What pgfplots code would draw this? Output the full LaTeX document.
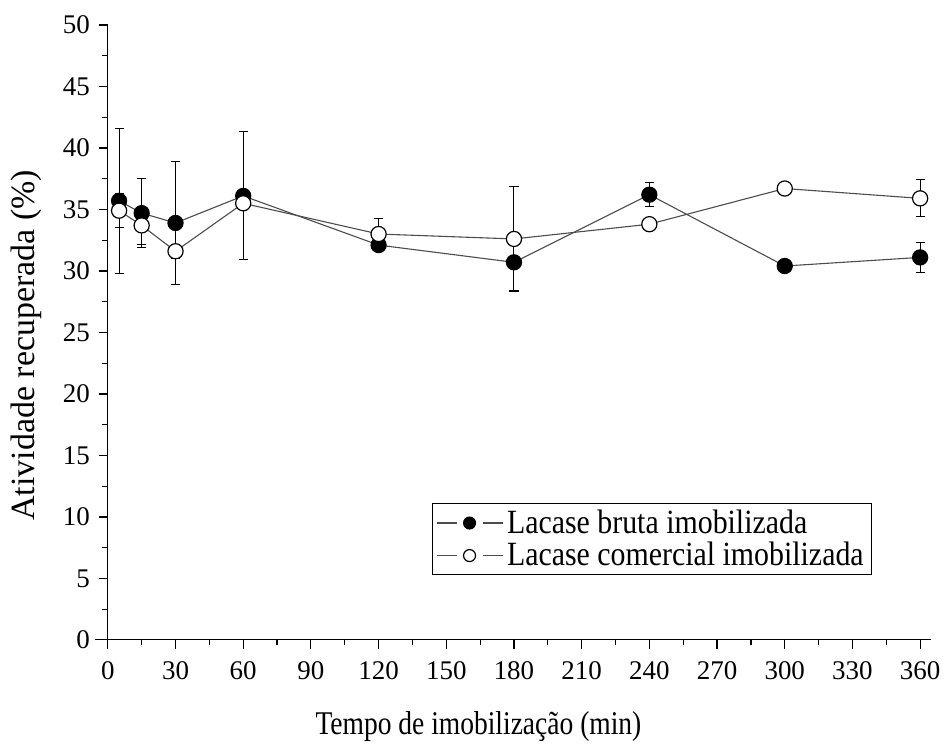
\documentclass[border=0pt]{standalone}
\usepackage{fontspec}
\setmainfont{Liberation Serif}
\usepackage{pgfplots}
\pgfplotsset{compat=1.18}
\begin{document}
\begin{tikzpicture}
\begin{axis}[
  scale only axis,
  width=412.5pt, height=308pt,
  xmin=0, xmax=365, ymin=0, ymax=50,
  axis lines*=left,
  x axis line style={-, shorten <=-6.5pt},
  y axis line style={-},
  xtick={0,30,...,360}, ytick={0,5,...,50},
  minor x tick num=1, minor y tick num=1,
  tick align=outside,
  major tick length=4.5pt, minor tick length=2.8pt,
  tick style={black, line width=0.6pt},
  axis line style={line width=0.6pt},
  /pgf/number format/assume math mode=true,
  tick label style={font=\fontsize{13.5}{15}\selectfont},
  xticklabel style={yshift=-3pt},
  yticklabel style={xshift=-1pt},
  xlabel={\fontsize{16.6}{19}\selectfont\scalebox{0.83}[1]{Tempo de imobilização (min)}},
  ylabel={\fontsize{17}{19}\selectfont Atividade recuperada (\%)},
  xlabel style={at={(ticklabel cs:0.45)}, yshift=-9pt},
  ylabel style={at={(ticklabel cs:0.479)}, yshift=3.5pt},
  legend style={at={(0.928,0.105)}, anchor=south east, draw=black, line width=0.5pt,
    font=\fontsize{17}{19}\selectfont, inner xsep=2pt, inner ysep=1pt, row sep=-1pt},
  legend cell align=left,
  legend image code/.code={
    \draw[#1, mark=none] (0pt,0pt) -- (10pt,0pt);
    \draw[#1, mark=none] (23pt,0pt) -- (33pt,0pt);
    \draw[#1, only marks, mark size=3pt] plot coordinates {(16.5pt,0pt)};
  },
  clip=false,
]
\addplot+[black!70, line width=0.55pt, mark=*, mark size=3.8pt,
  mark options={draw=black, fill=black, solid},
  error bars/.cd, y dir=both, y explicit,
  error bar style={black, line width=0.5pt}, error mark options={rotate=90, mark size=2.3pt, black, line width=0.5pt}]
coordinates {
(5,35.7) +- (0,5.9)
(15,34.7) +- (0,2.8)
(30,33.9) +- (0,5.0)
(60,36.1) +- (0,5.2)
(120,32.1) +- (0,0.3)
(180,30.7) +- (0,2.3)
(240,36.2) +- (0,0.95)
(300,30.4) +- (0,0.3)
(360,31.1) +- (0,1.25)
};
\addlegendentry{\scalebox{0.88}[1]{Lacase bruta imobilizada}}
\addplot+[black!70, line width=0.55pt, mark=*, mark size=3.8pt,
  mark options={draw=black, fill=white, solid, line width=0.6pt},
  error bars/.cd, y dir=both, y explicit,
  error bar style={black, line width=0.5pt}, error mark options={rotate=90, mark size=2.3pt, black, line width=0.5pt}]
coordinates {
(5,34.9) +- (0,1.4)
(15,33.7) +- (0,1.55)
(30,31.6) +- (0,0.55)
(60,35.5) +- (0,0.3)
(120,33.0) +- (0,1.3)
(180,32.6) +- (0,4.3)
(240,33.8) +- (0,0.3)
(300,36.7) +- (0,0.3)
(360,35.9) +- (0,1.5)
};
\addlegendentry{\scalebox{0.88}[1]{Lacase comercial imobilizada}}
\end{axis}
\path (current axis.south west) ++(-54pt,-51.5pt) rectangle ++(473.5pt,372pt);
\end{tikzpicture}
\end{document}
